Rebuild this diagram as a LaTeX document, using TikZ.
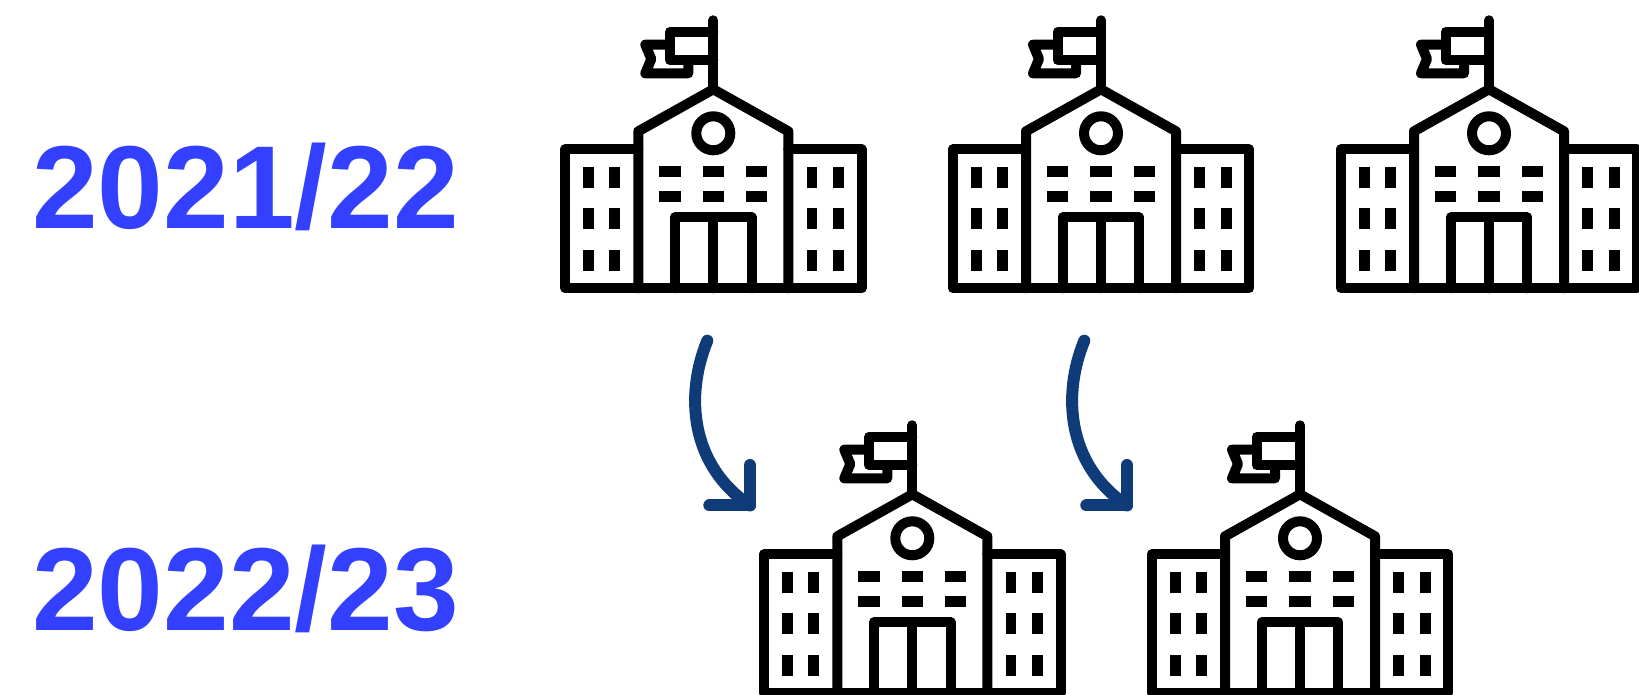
\documentclass[tikz,border=0pt]{standalone}
\usepackage{fontspec}
\setmainfont{Liberation Sans}
\definecolor{yearblue}{RGB}{51, 64, 255}
\definecolor{arrowblue}{RGB}{15, 60, 120}
\tikzset{
    iconline/.style={draw=black, line width=10pt, line join=round, line cap=round},
    iconpane/.style={fill=black},
    yearlabel/.style={text=yearblue, inner sep=0pt, anchor=base west, font=\fontsize{118}{118}\selectfont\bfseries},
    movearrow/.style={draw=arrowblue, line width=12pt, line join=round, line cap=round},
    school/.pic={
        % wings, base and main hall
        \draw[iconline] (-75,144) -- (-148.3,144) -- (-148.3,5) -- (148.3,5) -- (148.3,144) -- (75,144);
        \draw[iconline] (-75,5) -- (-75,162) -- (0,204) -- (75,162) -- (75,5);
        % flag
        \draw[iconline] (0,204) -- (0,273);
        \draw[iconline] (0,261.6) -- (-43.3,261.6) -- (-43.3,233) -- (0,233);
        \draw[iconline] (-43.3,248.6) -- (-68,248.6) -- (-62,234.3) -- (-68,220) -- (-25,220) -- (-25,233);
        \draw[line width=10pt] (0,160) circle (17);
        % door
        \draw[iconline] (-38.3,5) -- (-38.3,76) -- (38.3,76) -- (38.3,5);
        \draw[iconline] (0,5) -- (0,76);
        % windows
        \foreach \x in {-54,-10.7,32.6} {
            \foreach \y in {91,116} {
                \fill[iconpane] (\x,\y) rectangle ++(21.4,10.8);
            }
        }
        \foreach \x in {-130,-104,93.4,120} {
            \foreach \y in {22.3,64,105.6} {
                \fill[iconpane] (\x,\y) rectangle ++(10.7,21);
            }
        }
    }
}
\begin{document}
\begin{tikzpicture}[x=1pt, y=1pt]
    \useasboundingbox (0,0) rectangle (1639,695);
    \clip (0,0) rectangle (1639,695);

    \node[yearlabel] (yearone) at (32,466.7) {2021/22};
    \node[yearlabel] (yeartwo) at (32,64.7) {2022/23};

    \pic at (713.3,401.7) {school};
    \pic at (1101,401.7) {school};
    \pic at (1489,401.7) {school};
    \pic at (912.3,-3.3) {school};
    \pic at (1300,-3.3) {school};

    \foreach \n/\dx in {a/0, b/377} {
        \coordinate (\n start) at (707.3+\dx,354.3);
        \coordinate (\n tip) at (750+\dx,189.5);
        \coordinate (\n up) at (750+\dx,230);
        \coordinate (\n left) at (709.3+\dx,189.5);
        \draw[movearrow] (\n start) .. controls (685+\dx,300) and (690+\dx,230) .. (\n tip);
        \draw[movearrow] (\n up) -- (\n tip) -- (\n left);
    }
\end{tikzpicture}
\end{document}
